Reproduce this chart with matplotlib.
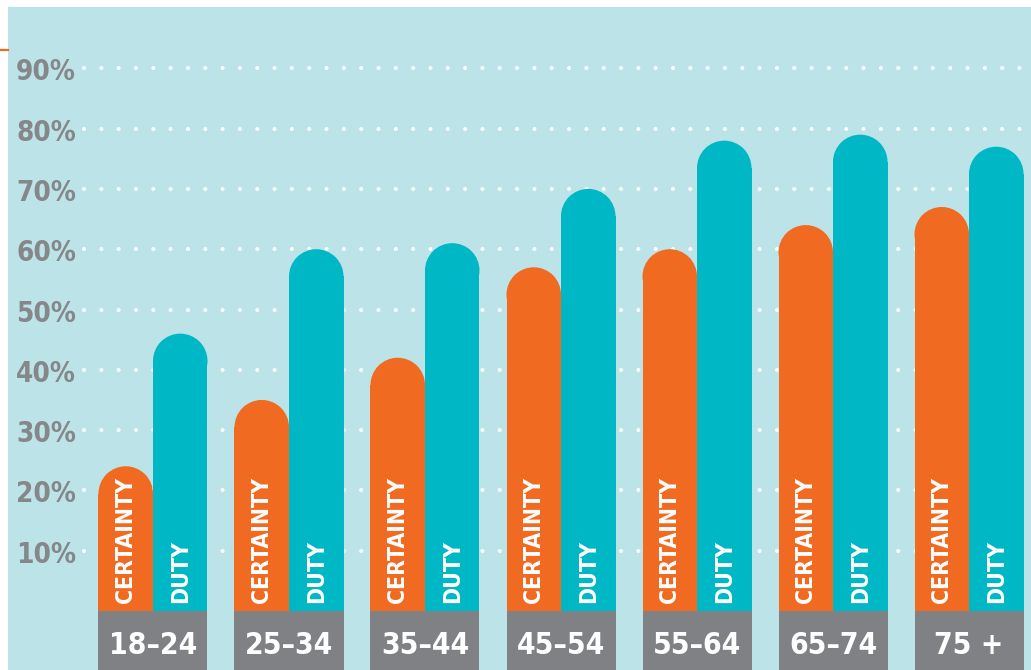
import matplotlib
matplotlib.use("Agg")
import matplotlib.pyplot as plt
from matplotlib.patches import Ellipse
from matplotlib.lines import Line2D
import numpy as np

BG, ORANGE, TEAL, GRAY, TICK = "#bce3e8", "#f06a22", "#00b8c5", "#808185", "#85878a"
FONT = ["DejaVu Sans"]

ages = ["18–24", "25–34", "35–44", "45–54", "55–64", "65–74", "75+"]
certainty = [24, 35, 42, 57, 60, 64, 67]
duty = [46, 60, 61, 70, 78, 79, 77]
yticks = [10, 20, 30, 40, 50, 60, 70, 80, 90]

W, H = 1031, 670
fig = plt.figure(figsize=(W / 100, H / 100), dpi=100)
fig.patch.set_facecolor("white")
ax = fig.add_axes([8 / W, 0, 1 - 8 / W, (H - 7) / H])
ax.set_facecolor(BG)
for s in ax.spines.values():
    s.set_visible(False)
ax.set_xticks([]); ax.set_yticks([])

ppu = 6.03  # pixels per percent
ax.set_ylim((611 - 670) / ppu, (611 - 7) / ppu)
ax.set_xlim((8 - 153) / 136, (1031 - 153) / 136)

bw = 54.5 / 136
r = 27.25 / ppu
x = np.arange(len(ages))
ytr = matplotlib.transforms.blended_transform_factory(ax.transAxes, ax.transData)

# dotted gridlines + labels
for t in yticks:
    ax.axhline(t, xmin=(84 - 8) / 1023, color="white", lw=2.9,
               linestyle=(0, (0.001, 4.3)), dash_capstyle="round", zorder=1)
    ax.text((76 - 8) / 1023, t - 12 / ppu, f"{t}%", transform=ytr, ha="right", va="baseline",
            fontsize=20, fontweight="bold", fontstretch="condensed", color=TICK, family=FONT)

for vals, off, col, lab in [(certainty, -bw / 2, ORANGE, "CERTAINTY"), (duty, bw / 2, TEAL, "DUTY")]:
    vals = np.array(vals)
    ax.bar(x + off, vals - r, width=bw, color=col, zorder=2, linewidth=0)
    for xi, v in zip(x + off, vals):
        ax.add_patch(Ellipse((xi, v - r), bw, 2 * r, color=col, zorder=2, linewidth=0))
        ax.text(xi, 8 / ppu, lab, rotation=90, ha="center", va="bottom", fontsize=16.5,
                fontweight="bold", fontstretch="condensed", color="white", family=FONT, zorder=3)

ax.bar(x, ax.get_ylim()[0], width=2 * bw, color=GRAY, zorder=2, linewidth=0)
for xi, a in zip(x, ages):
    ax.text(xi, -43 / ppu, a.replace("+", " +"), ha="center", va="baseline", fontsize=21.5,
            fontweight="bold", fontstretch="condensed", color="white", family=FONT, zorder=3)

fig.add_artist(Line2D([0, 8 / W], [1 - 50 / H] * 2, color=ORANGE, lw=1.6))

fig.savefig("out.png", dpi=100, facecolor="white")
